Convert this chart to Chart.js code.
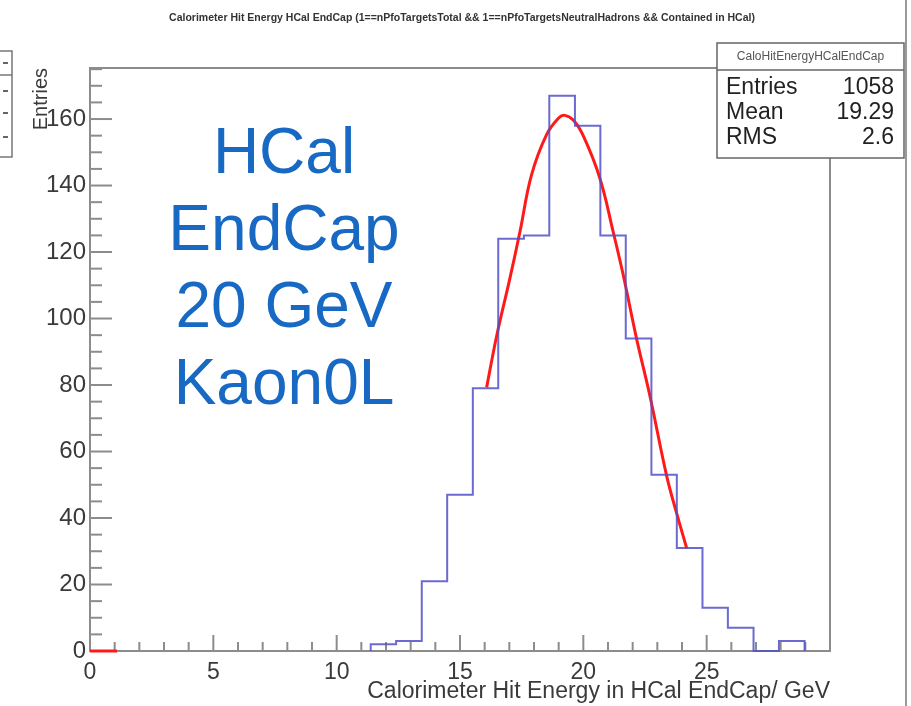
<!DOCTYPE html>
<html>
<head>
<meta charset="utf-8">
<script src="https://cdn.jsdelivr.net/npm/chart.js@4.4.0/dist/chart.umd.min.js"></script>
<style>
  html, body { margin: 0; padding: 0; background: #fff; }
  #wrap { width: 911px; height: 706px; position: relative; }
</style>
</head>
<body>
<div id="wrap"><canvas id="hcal"></canvas></div>
<script>
// histogram: bin edges (GeV) and entries per bin
const binEdges = [11.38, 12.41, 13.45, 14.48, 15.52, 16.55, 17.59, 18.62, 19.66, 20.69, 21.72, 22.76, 23.79, 24.83, 25.86, 26.90, 27.93, 28.97];
const binCounts = [2, 3, 21, 47, 79, 124, 125, 167, 158, 125, 94, 53, 31, 13, 7, 0, 3];

// gaussian fit curve, sampled
const fitX = [16.08, 16.49, 17.02, 17.43, 17.90, 18.51, 19.0, 19.25, 19.6, 20.0, 20.67, 21.21, 21.62, 22.16, 22.70, 23.38, 23.8, 24.19];
const fitY = [79.3, 94.9, 112, 126.1, 143.2, 155.3, 160.3, 161.1, 159.6, 154.9, 142.2, 126.1, 113, 93.9, 76.7, 52.6, 41, 30.9];

// the fit function also shows up along zero at the low end
const fitLowX = [0, 1.1];
const fitLowY = [0, 0];

const xTicks = [0, 5, 10, 15, 20, 25];
const yTicks = [0, 20, 40, 60, 80, 100, 120, 140, 160];

const statNames = ['Entries', 'Mean', 'RMS'];
const statValues = ['1058', '19.29', '2.6'];

const labelLines = ['HCal', 'EndCap', '20 GeV', 'Kaon0L'];

const histTitle = 'Calorimeter Hit Energy HCal EndCap (1==nPfoTargetsTotal && 1==nPfoTargetsNeutralHadrons && Contained in HCal)';

const FONT = '"Liberation Sans", Arial, Helvetica, sans-serif';
const axisGrey = '#8c8c8c';

const histPoints = [{x: binEdges[0], y: 0}];
binCounts.forEach((c, i) => histPoints.push({x: binEdges[i], y: c}));
histPoints.push({x: binEdges[binEdges.length - 1], y: 0});

const fitPoints = fitX.map((v, i) => ({x: v, y: fitY[i]}));
const fitLowPoints = fitLowX.map((v, i) => ({x: v, y: fitLowY[i]}));

function line(ctx, x1, y1, x2, y2) {
    ctx.beginPath();
    ctx.moveTo(x1, y1);
    ctx.lineTo(x2, y2);
    ctx.stroke();
}

// ROOT style frame: inner ticks, top/right border, stats box, side labels
const rootFrame = {
    id: 'rootFrame',
    beforeDatasetsDraw(chart) {
        const {ctx, chartArea: a, scales: {x, y}} = chart;
        ctx.save();
        ctx.strokeStyle = axisGrey;
        ctx.lineWidth = 2;
        for (let v = 1; v < x.max; v += 1) {
            const px = x.getPixelForValue(v);
            line(ctx, px, a.bottom, px, a.bottom - (v % 5 === 0 ? 16 : 9));
        }
        for (let v = 5; v < y.max; v += 5) {
            const py = y.getPixelForValue(v);
            line(ctx, a.left, py, a.left + (v % 20 === 0 ? 22 : 12), py);
        }
        line(ctx, a.left, a.top, a.right, a.top);
        line(ctx, a.right, a.top, a.right, a.bottom);
        ctx.restore();
    },
    afterDraw(chart) {
        const ctx = chart.ctx;
        ctx.save();

        // histogram title
        ctx.fillStyle = '#333';
        ctx.font = 'bold 10.5px ' + FONT;
        ctx.textAlign = 'center';
        ctx.textBaseline = 'middle';
        ctx.fillText(histTitle, 462, 18);

        // stats box
        const bx = 717, by = 43, bw = 187, bh = 115;
        ctx.fillStyle = '#fff';
        ctx.fillRect(bx, by, bw, bh);
        ctx.strokeStyle = '#666';
        ctx.lineWidth = 1.5;
        ctx.strokeRect(bx, by, bw, bh);
        line(ctx, bx, by + 27, bx + bw, by + 27);
        ctx.fillStyle = '#555';
        ctx.font = '12px ' + FONT;
        ctx.fillText('CaloHitEnergyHCalEndCap', bx + bw / 2, by + 14);
        ctx.fillStyle = '#222';
        ctx.font = '23px ' + FONT;
        statNames.forEach((n, i) => {
            const ty = by + 45 + i * 25;
            ctx.textAlign = 'left';
            ctx.fillText(n, bx + 9, ty);
            ctx.textAlign = 'right';
            ctx.fillText(statValues[i], bx + bw - 10, ty);
        });

        // big blue label inside the frame
        ctx.fillStyle = '#1869c3';
        ctx.font = '64px ' + FONT;
        ctx.textAlign = 'center';
        ctx.textBaseline = 'alphabetic';
        labelLines.forEach((t, i) => ctx.fillText(t, 284, 173 + i * 77));

        // neighbouring pad edge on the left, page edge on the right
        ctx.strokeStyle = '#777';
        ctx.lineWidth = 1.5;
        ctx.strokeRect(-4, 51, 16, 106);
        line(ctx, 0, 75, 12, 75);
        ctx.fillStyle = '#666';
        [62, 90, 112, 136].forEach(ty => ctx.fillRect(3, ty, 5, 2));
        ctx.strokeStyle = '#9a9a9a';
        ctx.lineWidth = 2;
        line(ctx, 906, 0, 906, 706);
        ctx.restore();
    }
};

new Chart(document.getElementById('hcal'), {
    type: 'line',
    data: {
        datasets: [
            {
                data: histPoints,
                stepped: 'before',
                borderColor: 'rgba(80, 80, 200, 0.85)',
                borderWidth: 2,
                pointRadius: 0,
                fill: false,
                clip: false
            },
            {
                data: fitPoints,
                borderColor: '#ff1a1a',
                borderWidth: 3,
                tension: 0.4,
                pointRadius: 0,
                fill: false
            },
            {
                data: fitLowPoints,
                borderColor: '#ff1a1a',
                borderWidth: 3,
                pointRadius: 0,
                fill: false,
                clip: false
            }
        ]
    },
    options: {
        responsive: true,
        maintainAspectRatio: false,
        animation: false,
        events: [],
        layout: { padding: { top: 68, left: 0, right: 81, bottom: 0 } },
        plugins: {
            legend: { display: false },
            tooltip: { enabled: false },
            title: { display: false }
        },
        scales: {
            x: {
                type: 'linear',
                min: 0,
                max: 30,
                afterBuildTicks: s => { s.ticks = xTicks.map(v => ({value: v})); },
                afterFit: s => { s.height = 55; },
                ticks: { color: '#3a3a3a', font: { family: FONT, size: 23 }, padding: 8, maxRotation: 0 },
                grid: { drawOnChartArea: false, drawTicks: false },
                border: { color: axisGrey, width: 2 },
                title: {
                    display: true,
                    text: 'Calorimeter Hit Energy in HCal EndCap/ GeV',
                    align: 'end',
                    color: '#3a3a3a',
                    font: { family: FONT, size: 23 },
                    padding: { top: 0, bottom: 1 }
                }
            },
            y: {
                min: 0,
                max: 175.35,
                afterBuildTicks: s => { s.ticks = yTicks.map(v => ({value: v})); },
                afterFit: s => { s.width = 90; },
                ticks: { color: '#3a3a3a', font: { family: FONT, size: 24 }, padding: 4 },
                grid: { drawOnChartArea: false, drawTicks: false },
                border: { color: axisGrey, width: 2 },
                title: {
                    display: true,
                    text: 'Entries',
                    align: 'end',
                    color: '#3a3a3a',
                    font: { family: FONT, size: 20 },
                    padding: { top: 29, bottom: 0 }
                }
            }
        }
    },
    plugins: [rootFrame]
});
</script>
</body>
</html>
